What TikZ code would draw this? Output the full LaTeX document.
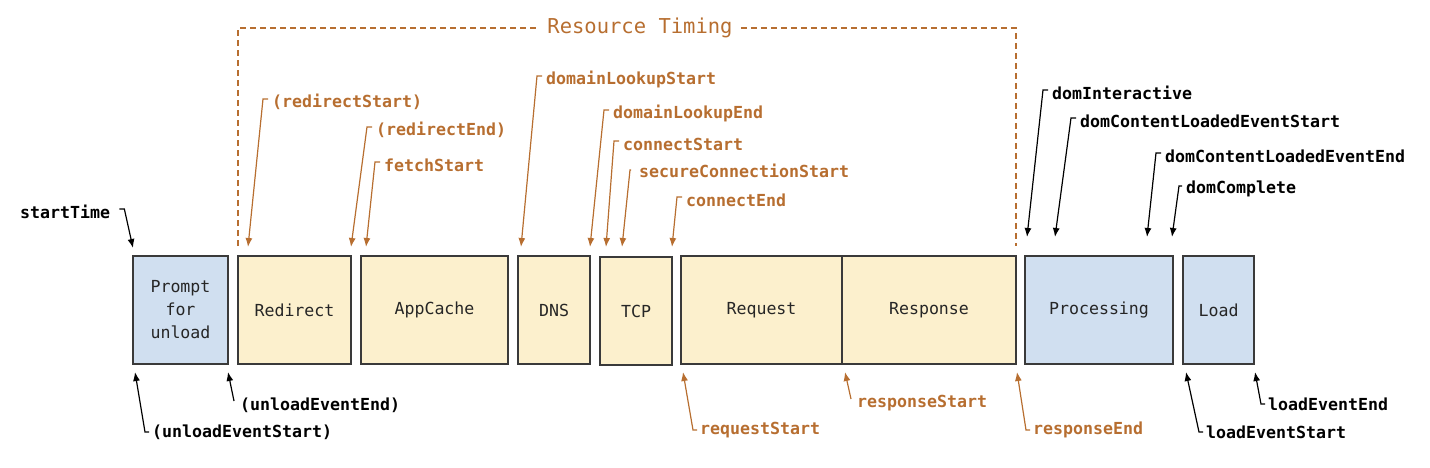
\documentclass[tikz,border=0pt]{standalone}
\usepackage{fontspec}
\usepackage{xcolor}
\usepackage{tikz}
\usetikzlibrary{arrows.meta, positioning, calc}
\newfontfamily\codefont{DejaVu Sans Mono}

\definecolor{rtorange}{RGB}{183,110,48}
\definecolor{boxblue}{RGB}{208,223,240}
\definecolor{boxyellow}{RGB}{252,240,205}
\definecolor{boxline}{RGB}{58,58,58}

\tikzset{
    phase/.style={draw=boxline, line width=1.4pt, minimum height=108pt, inner sep=0pt,
        font=\codefont\fontsize{16.6}{23}\selectfont, text=black!85, align=center},
    netphase/.style={phase, fill=boxyellow},
    docphase/.style={phase, fill=boxblue},
    mark label/.style={anchor=west, inner sep=0pt, font=\codefont\bfseries\fontsize{16.6}{19}\selectfont},
    rlabel/.style={mark label, text=rtorange},
    klabel/.style={mark label, text=black},
    rarrow/.style={draw=rtorange, line width=1.2pt, -{Latex[length=9pt,width=7pt]}},
    karrow/.style={draw=black, line width=1.2pt, -{Latex[length=9pt,width=7pt]}},
}

\begin{document}
\begin{tikzpicture}[x=1pt, y=-1pt]
        \useasboundingbox (0,0) rectangle (1430,468);

        % phases
        \node[docphase, minimum width=95pt] at (180.5,310) (prompt) {Prompt\\for\\unload};
        \node[netphase, minimum width=113pt] at (294.5,310) (redirect) {Redirect};
        \node[netphase, minimum width=147pt] at (434.5,310) (appcache) {AppCache};
        \node[netphase, minimum width=72pt] at (554,310) (dns) {DNS};
        \node[netphase, minimum width=72pt] at (636,311) (tcp) {TCP};
        \node[netphase, minimum width=161pt] at (761.5,310) (request) {Request};
        \node[netphase, minimum width=174pt] at (929,310) (response) {Response};
        \node[docphase, minimum width=148pt] at (1099,310) (processing) {Processing};
        \node[docphase, minimum width=71pt] at (1218.5,310) (load) {Load};

        % resource timing bracket
        \node[text=rtorange, inner xsep=8pt, font=\codefont\fontsize{20.5}{24}\selectfont] at (640,28) (restiming) {Resource Timing};
        \draw[rtorange, line width=1.1pt, dash pattern=on 6pt off 4pt] (238,246) -- (238,28) -- (restiming.west);
        \draw[rtorange, line width=1.1pt, dash pattern=on 6pt off 4pt] (restiming.east) -- (1016,28) -- (1016,246);

        % marks above the phases
        \coordinate (tStart) at (133,248);
        \coordinate (tRedirStart) at (248,247);
        \coordinate (tRedirEnd) at (351,247);
        \coordinate (tFetch) at (366,247);
        \coordinate (tDnsStart) at (521,247);
        \coordinate (tDnsEnd) at (590,247);
        \coordinate (tConnStart) at (606,247);
        \coordinate (tSecure) at (622,247);
        \coordinate (tConnEnd) at (672,247);
        \coordinate (tInteractive) at (1027,237);
        \coordinate (tDclStart) at (1055,237);
        \coordinate (tDclEnd) at (1147,237);
        \coordinate (tComplete) at (1172,237);

        \node[klabel] at (20,212) (starttime) {startTime};
        \node[rlabel] at (272,102) (redirstart) {(redirectStart)};
        \node[rlabel] at (376,130) (redirend) {(redirectEnd)};
        \node[rlabel] at (384,165) (fetchstart) {fetchStart};
        \node[rlabel] at (546,79) (dnsstart) {domainLookupStart};
        \node[rlabel] at (613,113) (dnsend) {domainLookupEnd};
        \node[rlabel] at (623,144) (connstart) {connectStart};
        \node[rlabel] at (639,171) (securestart) {secureConnectionStart};
        \node[rlabel] at (686,200) (connend) {connectEnd};
        \node[klabel] at (1052,93) (interactive) {domInteractive};
        \node[klabel] at (1080,121) (dclstart) {domContentLoadedEventStart};
        \node[klabel] at (1165,156) (dclend) {domContentLoadedEventEnd};
        \node[klabel] at (1186,189) (complete) {domComplete};

        \draw[karrow] (starttime.east) ++(9,-3) -- ++(5,0) -- (tStart);
        \draw[rarrow] (redirstart.west) ++(-4,-3) -- ++(-5,0) -- (tRedirStart);
        \draw[rarrow] (redirend.west) ++(-4,-3) -- ++(-5,0) -- (tRedirEnd);
        \draw[rarrow] (fetchstart.west) ++(-4,-3) -- ++(-5,0) -- (tFetch);
        \draw[rarrow] (dnsstart.west) ++(-4,-3) -- ++(-5,0) -- (tDnsStart);
        \draw[rarrow] (dnsend.west) ++(-4,-3) -- ++(-5,0) -- (tDnsEnd);
        \draw[rarrow] (connstart.west) ++(-4,-3) -- ++(-5,0) -- (tConnStart);
        \draw[rarrow] (securestart.west) ++(-8,-1) -- ++(-1,0) -- (tSecure);
        \draw[rarrow] (connend.west) ++(-4,-3) -- ++(-5,0) -- (tConnEnd);
        \draw[karrow] (interactive.west) ++(-4,-3) -- ++(-5,0) -- (tInteractive);
        \draw[karrow] (dclstart.west) ++(-4,-3) -- ++(-5,0) -- (tDclStart);
        \draw[karrow] (dclend.west) ++(-4,-3) -- ++(-5,0) -- (tDclEnd);
        \draw[karrow] (complete.west) ++(-4,-3) -- ++(-3,0) -- (tComplete);

        % marks below the phases
        \coordinate (bUnloadStart) at (135,372);
        \coordinate (bUnloadEnd) at (228,372);
        \coordinate (bRequest) at (683,372);
        \coordinate (bResponse) at (845,372);
        \coordinate (bResponseEnd) at (1017,372);
        \coordinate (bLoadStart) at (1186,372);
        \coordinate (bLoadEnd) at (1255,372);

        \node[klabel] at (152,432) (unloadstart) {(unloadEventStart)};
        \node[klabel] at (240,405) (unloadend) {(unloadEventEnd)};
        \node[rlabel] at (700,430) (requeststart) {requestStart};
        \node[rlabel] at (857,403) (responsestart) {responseStart};
        \node[rlabel] at (1033,430) (responseend) {responseEnd};
        \node[klabel] at (1206,432) (loadstart) {loadEventStart};
        \node[klabel] at (1268,404) (loadend) {loadEventEnd};

        \draw[karrow] (unloadstart.west) ++(-3,0) -- ++(-4,0) -- (bUnloadStart);
        \draw[karrow] (unloadend.west) ++(-6,-4) -- (bUnloadEnd);
        \draw[rarrow] (requeststart.west) ++(-3,0) -- ++(-4,0) -- (bRequest);
        \draw[rarrow] (responsestart.west) ++(-6,-4) -- (bResponse);
        \draw[rarrow] (responseend.west) ++(-3,0) -- ++(-4,0) -- (bResponseEnd);
        \draw[karrow] (loadstart.west) ++(-3,0) -- ++(-4,0) -- (bLoadStart);
        \draw[karrow] (loadend.west) ++(-3,0) -- ++(-4,0) -- (bLoadEnd);
    \end{tikzpicture}
\end{document}
